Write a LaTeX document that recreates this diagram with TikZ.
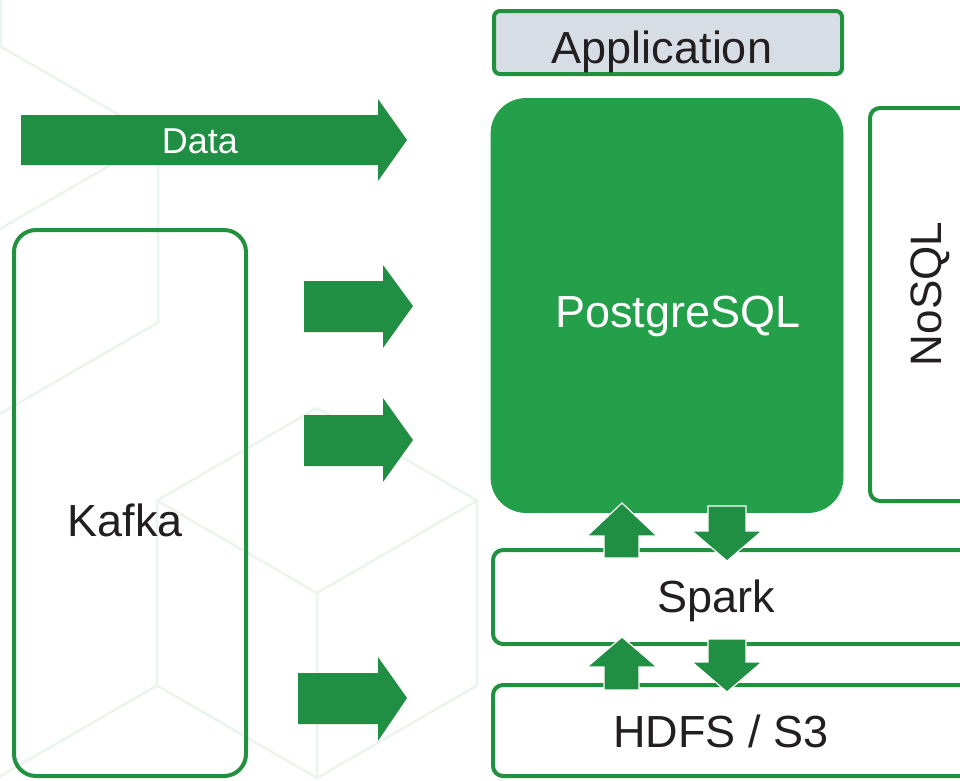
\documentclass[tikz,border=0pt]{standalone}
\usepackage{fontspec}
\setmainfont{Liberation Sans}
\begin{document}
\begin{tikzpicture}[x=1pt,y=-1pt,
  hexline/.style={draw=hexc,line width=2.5pt,line join=round},
  boxline/.style={draw=boxg,line width=4pt,rectangle,inner sep=0pt},
  blk/.style={fill=arrg},
  vblk/.style={fill=arrg,draw=white,line width=1.2pt},
  lbl/.style={inner sep=0pt,anchor=base,text=txtc}]
\definecolor{hexc}{HTML}{EBF4ED}
\definecolor{boxg}{HTML}{22913F}
\definecolor{arrg}{HTML}{218F43}
\definecolor{pgg}{HTML}{24A04B}
\definecolor{appf}{HTML}{D6DDE5}
\definecolor{txtc}{HTML}{231F20}
\useasboundingbox (0,0) rectangle (960,780);
\clip (0,0) rectangle (960,780);
\fill[white] (0,0) rectangle (960,780);
% background cubes
\draw[hexline] (-2,45)--(158,137.5)--(158,322.5)--(-2,415)--(-162,322.5)--(-162,137.5)--cycle;
\draw[hexline] (-162,137.5)--(-2,230)--(158,137.5) (-2,230)--(-2,415);
\draw[hexline] (317,408)--(477,500.5)--(477,685.5)--(317,778)--(157,685.5)--(157,500.5)--cycle;
\draw[hexline] (157,500.5)--(317,593)--(477,500.5) (317,593)--(317,778);
\draw[hexline] (1,0)--(1,45);
\draw[hexline] (157,685.5)--(-3,778);
% boxes
\node[boxline,fill=appf,rounded corners=6pt,minimum width=348pt,minimum height=63pt] (app) at (668,42.5) {};
\node[rectangle,fill=pgg,draw=pgg,line width=0.8pt,rounded corners=35pt,minimum width=352pt,minimum height=414pt] (pg) at (667,305.5) {};
\node[boxline,rounded corners=22pt,minimum width=232pt,minimum height=546pt] (kafka) at (130,503) {};
\node[boxline,fill=white,rounded corners=10pt,minimum width=130pt,minimum height=393pt] (nosql) at (935,304.5) {};
\node[boxline,fill=white,rounded corners=10pt,minimum width=507pt,minimum height=94pt] (spark) at (746.5,597) {};
\node[boxline,fill=white,rounded corners=10pt,minimum width=507pt,minimum height=91pt] (hdfs) at (746.5,730.5) {};
% right block arrows
\fill[blk] (21,115)--(378,115)--(378,99)--(407,140)--(378,181)--(378,165)--(21,165)--cycle;
\fill[blk] (304,281)--(383,281)--(383,265)--(413,306)--(383,348)--(383,332)--(304,332)--cycle;
\fill[blk] (304,415)--(383,415)--(383,398)--(413,440)--(383,482)--(383,466)--(304,466)--cycle;
\fill[blk] (298,673)--(378,673)--(378,657)--(407,698)--(378,741)--(378,724)--(298,724)--cycle;
% vertical block arrows
\draw[vblk] (604,558)--(604,536)--(587,536)--(622,503)--(657,536)--(639,536)--(639,558)--cycle;
\draw[vblk] (708,506)--(708,531)--(692,531)--(727,561)--(762,531)--(746,531)--(746,506)--cycle;
\draw[vblk] (604,690)--(604,667)--(587,667)--(622,637)--(657,667)--(639,667)--(639,690)--cycle;
\draw[vblk] (708,639)--(708,662)--(692,662)--(727,692)--(762,662)--(746,662)--(746,639)--cycle;
% labels
\node[lbl] (applbl) at (662,63) {\fontsize{45}{50}\selectfont Application};
\node[lbl,text=white] (pglbl) at (678,327) {\fontsize{45}{50}\selectfont PostgreSQL};
\node[lbl] (sparklbl) at (716,612) {\fontsize{45}{50}\selectfont Spark};
\node[lbl] (hdfslbl) at (721,747) {\fontsize{45}{50}\selectfont HDFS / S3};
\node[lbl] (kafkalbl) at (125,536) {\fontsize{45}{50}\selectfont Kafka};
\node[lbl,text=white] (datalbl) at (200,153) {\fontsize{36}{40}\selectfont Data};
\node[lbl,rotate=90] (nosqllbl) at (941,294) {\fontsize{44}{50}\selectfont NoSQL};
\end{tikzpicture}
\end{document}
